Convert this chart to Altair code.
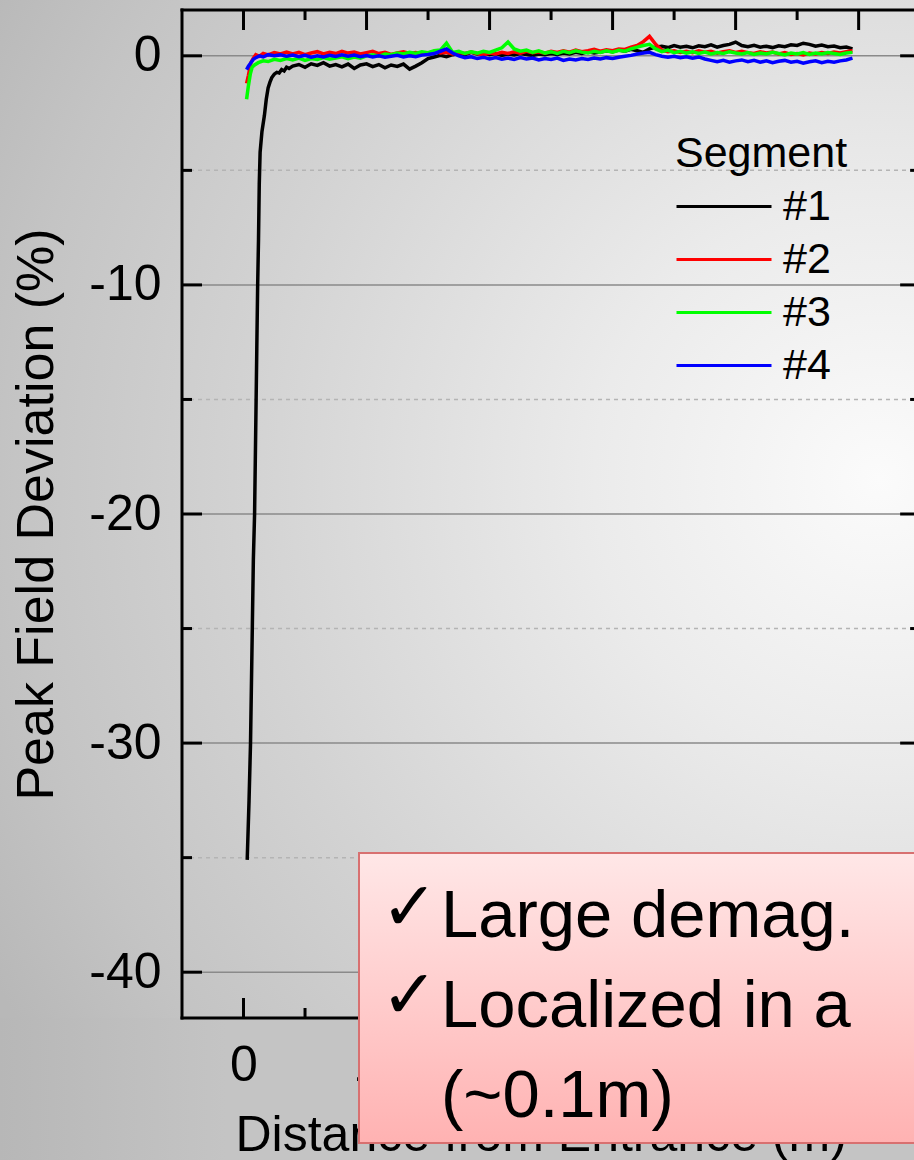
import altair as alt
import pandas as pd

FONT = "Liberation Sans"

segments = ["#1", "#2", "#3", "#4"]
segment_colors = ["#000000", "#ff0000", "#00ff00", "#0000ff"]

# Entrance region of each segment: distance (m) and peak field deviation (%)
entry_x_1 = [0.03, 0.045, 0.057, 0.07, 0.08, 0.09, 0.10, 0.108, 0.115, 0.122, 0.128, 0.135,
             0.15, 0.17, 0.185, 0.20, 0.215, 0.23, 0.25, 0.27, 0.29, 0.31, 0.33, 0.35, 0.37]
entry_y_1 = [-35.1, -32.5, -30.0, -25.5, -22.0, -20.0, -16.0, -12.8, -10.0, -8.0, -5.6, -4.2,
             -3.3, -2.6, -1.9, -1.4, -1.15, -0.95, -0.8, -0.72, -0.75, -0.6, -0.66, -0.5, -0.55]
entry_x_2 = [0.025, 0.04, 0.06, 0.08, 0.10, 0.13, 0.16, 0.20, 0.25, 0.30, 0.35]
entry_y_2 = [-1.2, -0.85, -0.3, -0.1, 0.05, -0.02, 0.10, 0.04, 0.14, 0.08, 0.16]
entry_x_3 = [0.025, 0.04, 0.055, 0.07, 0.09, 0.12, 0.16, 0.20, 0.25, 0.30, 0.35]
entry_y_3 = [-1.9, -1.3, -0.8, -0.5, -0.4, -0.3, -0.22, -0.25, -0.15, -0.2, -0.12]
entry_x_4 = [0.025, 0.04, 0.06, 0.08, 0.10, 0.13, 0.16, 0.20, 0.25, 0.30, 0.35]
entry_y_4 = [-0.6, -0.45, -0.3, -0.15, -0.08, 0.0, -0.05, 0.05, 0.0, 0.04, -0.02]

# Remainder of each segment, sampled every 0.05 m
plateau_x = [0.40, 0.45, 0.50, 0.55, 0.60, 0.65, 0.70, 0.75, 0.80, 0.85,
             0.90, 0.95, 1.00, 1.05, 1.10, 1.15, 1.20, 1.25, 1.30, 1.35,
             1.40, 1.45, 1.50, 1.55, 1.60, 1.65, 1.70, 1.75, 1.80, 1.85,
             1.90, 1.95, 2.00, 2.05, 2.10, 2.15, 2.20, 2.25, 2.30, 2.35,
             2.40, 2.45, 2.50, 2.55, 2.60, 2.65, 2.70, 2.75, 2.80, 2.85,
             2.90, 2.95, 3.00, 3.05, 3.10, 3.15, 3.20, 3.25, 3.30, 3.35,
             3.40, 3.45, 3.50, 3.55, 3.60, 3.65, 3.70, 3.75, 3.80, 3.85,
             3.90, 3.95, 4.00, 4.05, 4.10, 4.15, 4.20, 4.25, 4.30, 4.35,
             4.40, 4.45, 4.50, 4.55, 4.60, 4.65, 4.70, 4.75, 4.80, 4.85,
             4.90, 4.95]
plateau_1 = [-0.45, -0.38, -0.50, -0.35, -0.42, -0.30, -0.45, -0.38, -0.48, -0.36,
             -0.55, -0.40, -0.35, -0.47, -0.38, -0.52, -0.40, -0.46, -0.36, -0.58,
             -0.45, -0.30, -0.12, -0.05, 0.02, -0.04, 0.05, 0.10, 0.05, 0.15,
             0.08, 0.12, 0.05, 0.10, 0.02, 0.08, 0.04, 0.10, 0.06, 0.02,
             0.08, 0.05, 0.10, 0.06, 0.12, 0.08, 0.15, 0.10, 0.18, 0.12,
             0.16, 0.22, 0.18, 0.25, 0.20, 0.28, 0.22, 0.15, 0.30, 0.38,
             0.42, 0.36, 0.45, 0.38, 0.42, 0.35, 0.44, 0.40, 0.48, 0.38,
             0.45, 0.50, 0.60, 0.45, 0.40, 0.46, 0.38, 0.42, 0.36, 0.44,
             0.40, 0.48, 0.45, 0.55, 0.50, 0.42, 0.47, 0.40, 0.43, 0.35,
             0.38, 0.30]
plateau_2 = [0.08, 0.15, 0.05, 0.12, 0.18, 0.08, 0.15, 0.10, 0.20, 0.12,
             0.16, 0.08, 0.14, 0.20, 0.10, 0.15, 0.06, 0.12, 0.18, 0.10,
             0.14, 0.08, 0.12, 0.20, 0.12, 0.15, 0.08, 0.14, 0.10, 0.16,
             0.10, 0.05, 0.12, 0.08, 0.15, 0.10, 0.18, 0.12, 0.20, 0.14,
             0.18, 0.12, 0.20, 0.15, 0.22, 0.16, 0.25, 0.18, 0.22, 0.28,
             0.20, 0.26, 0.22, 0.30, 0.28, 0.38, 0.45, 0.62, 0.85, 0.50,
             0.25, 0.18, 0.22, 0.15, 0.20, 0.14, 0.22, 0.16, 0.20, 0.12,
             0.18, 0.22, 0.15, 0.20, 0.14, 0.10, 0.18, 0.12, 0.16, 0.08,
             0.14, 0.06, 0.10, 0.04, 0.12, 0.08, 0.14, 0.10, 0.16, 0.12,
             0.18, 0.22]
plateau_3 = [-0.18, -0.10, -0.20, -0.12, -0.16, -0.08, -0.15, -0.10, -0.04, -0.12,
             -0.05, -0.10, 0.00, 0.05, -0.02, 0.08, 0.05, 0.12, 0.08, 0.15,
             0.10, 0.18, 0.14, 0.22, 0.25, 0.55, 0.15, 0.20, 0.10, 0.18,
             0.12, 0.20, 0.15, 0.25, 0.35, 0.60, 0.30, 0.20, 0.25, 0.15,
             0.22, 0.12, 0.18, 0.10, 0.20, 0.14, 0.22, 0.16, 0.12, 0.20,
             0.15, 0.22, 0.16, 0.24, 0.20, 0.30, 0.38, 0.45, 0.50, 0.30,
             0.18, 0.25, 0.14, 0.20, 0.12, 0.18, 0.10, 0.16, 0.08, 0.14,
             0.10, 0.18, 0.12, 0.08, 0.14, 0.06, 0.12, 0.08, 0.15, 0.10,
             0.04, 0.12, 0.08, 0.14, 0.06, 0.12, 0.08, 0.14, 0.10, 0.06,
             0.12, 0.15]
plateau_4 = [0.03, -0.04, 0.02, -0.06, 0.00, -0.05, 0.02, -0.03, 0.04, -0.02,
             0.03, -0.04, 0.01, -0.05, 0.00, -0.06, -0.02, 0.02, -0.05, 0.00,
             -0.04, 0.03, 0.06, 0.10, 0.20, 0.30, 0.12, 0.00, -0.08, -0.04,
             -0.12, -0.06, -0.14, -0.08, -0.15, -0.10, -0.16, -0.08, -0.14, -0.10,
             -0.18, -0.12, -0.16, -0.10, -0.20, -0.14, -0.18, -0.12, -0.16, -0.10,
             -0.14, -0.08, -0.12, -0.06, -0.02, 0.02, 0.08, 0.12, 0.15, 0.05,
             -0.02, -0.06, -0.02, -0.08, -0.04, -0.10, -0.05, -0.14, -0.20, -0.26,
             -0.20, -0.28, -0.22, -0.18, -0.26, -0.20, -0.28, -0.22, -0.30, -0.24,
             -0.20, -0.28, -0.24, -0.32, -0.26, -0.22, -0.30, -0.24, -0.28, -0.22,
             -0.18, -0.10]

y_major = [0, -10, -20, -30, -40]
y_minor = [-5, -15, -25, -35]
x_major = [0, 1, 2, 3, 4, 5]
x_minor = [0.5, 1.5, 2.5, 3.5, 4.5]

note_lines = ["Large demag.", "Localized in a", "(~0.1m)"]
note_checks = ["\u2713", "\u2713"]

# ---- table for the line layer ----
rows = []
series = zip(segments,
             [entry_x_1, entry_x_2, entry_x_3, entry_x_4],
             [entry_y_1, entry_y_2, entry_y_3, entry_y_4],
             [plateau_1, plateau_2, plateau_3, plateau_4])
for seg, ex, ey, py in series:
    for d, v in zip(ex + plateau_x, ey + py):
        rows.append({"segment": seg, "distance": d, "deviation": v})
df = pd.DataFrame(rows)

# ---- layout ----
W, H = 732, 1008
X_DOMAIN = [-0.5, 5.45]
Y_DOMAIN = [-42, 2]
RIGHT_EDGE = W * 6.0 / (X_DOMAIN[1] - X_DOMAIN[0])   # frame at x = 5.5 m

xs = alt.Scale(domain=X_DOMAIN, nice=False, zero=False)
ys = alt.Scale(domain=Y_DOMAIN, nice=False, zero=False)
one = pd.DataFrame({"k": [0]})

x_axis = alt.Axis(title="Distance from Entrance (m)", values=x_major, format="d",
                  domain=False, ticks=False, tickSize=0, grid=False,
                  labelFont=FONT, labelFontSize=50, labelColor="black",
                  labelPadding=62, labelBaseline="alphabetic",
                  labelFlush=False, labelOverlap=False,
                  titleFont=FONT, titleFontSize=50, titleFontWeight="normal",
                  titleColor="black", titleX=53, titleY=132,
                  titleAlign="left", titleBaseline="alphabetic", zindex=0)
y_axis = alt.Axis(title="Peak Field Deviation (%)", values=y_major,
                  labelExpr="toString(datum.value)",
                  domain=False, ticks=False, tickSize=0, grid=False,
                  labelFont=FONT, labelFontSize=50, labelColor="black",
                  labelPadding=21, labelFlush=False, labelOverlap=False,
                  titleFont=FONT, titleFontSize=52, titleFontWeight="normal",
                  titleColor="black", titleAngle=270, titleX=-130, titleY=H / 2,
                  titleAlign="center", titleBaseline="alphabetic", zindex=1)

# slide backdrop behind the plot and the left margin
background = alt.Chart(one).mark_rect(
    fill=alt.Gradient(
        gradient="radial",
        stops=[alt.GradientStop(offset=0.0, color="#fbfbfb"),
               alt.GradientStop(offset=0.28, color="#ebebeb"),
               alt.GradientStop(offset=0.62, color="#d3d3d3"),
               alt.GradientStop(offset=0.85, color="#c4c4c4"),
               alt.GradientStop(offset=1.0, color="#b8b8b8")],
        x1=0.915, y1=0.47, r1=0, x2=0.915, y2=0.47, r2=1.0),
    strokeWidth=0,
).encode(x=alt.value(-182), x2=alt.value(W), y=alt.value(-10), y2=alt.value(H))

# backdrop of the lower-left corner, left of the axis labels
corner = alt.Chart(one).mark_rect(
    fill=alt.Gradient(gradient="linear",
                      stops=[alt.GradientStop(offset=0.0, color="#b7b7b7"),
                             alt.GradientStop(offset=1.0, color="#c4c4c4")],
                      x1=0, y1=0, x2=1, y2=0),
    strokeWidth=0,
).encode(x=alt.value(-182), x2=alt.value(44), y=alt.value(H), y2=alt.value(H + 142))

grid_minor = alt.Chart(pd.DataFrame({"deviation": y_minor})).mark_rule(
    color="#b4b4b4", strokeWidth=1.5, strokeDash=[4, 4]
).encode(y=alt.Y("deviation:Q", scale=ys, axis=y_axis))

grid_major = alt.Chart(pd.DataFrame({"deviation": y_major})).mark_rule(
    color="#8a8a8a", strokeWidth=1.5
).encode(y=alt.Y("deviation:Q", scale=ys, axis=y_axis))

lines = alt.Chart(df).mark_line(strokeWidth=3.5).encode(
    x=alt.X("distance:Q", scale=xs, axis=x_axis),
    y=alt.Y("deviation:Q", scale=ys, axis=y_axis),
    color=alt.Color("segment:N",
                    scale=alt.Scale(domain=segments, range=segment_colors),
                    legend=alt.Legend(orient="none", legendX=493, legendY=123,
                                      title="Segment", titleFont=FONT, titleFontSize=43,
                                      titleFontWeight="normal", titleColor="black",
                                      titlePadding=9, labelFont=FONT, labelFontSize=43,
                                      labelColor="black", labelOffset=10,
                                      symbolType="stroke", symbolSize=9025,
                                      symbolStrokeWidth=3, rowPadding=9,
                                      clipHeight=43, padding=0)),
)

# plot frame (left, top, bottom)
frame_left = alt.Chart(one).mark_rule(color="black", strokeWidth=3, strokeCap="square").encode(
    x=alt.value(0), y=alt.value(0), y2=alt.value(H))
frame_top = alt.Chart(one).mark_rule(color="black", strokeWidth=3, strokeCap="square").encode(
    x=alt.value(0), x2=alt.value(RIGHT_EDGE), y=alt.value(0))
frame_bottom = alt.Chart(one).mark_rule(color="black", strokeWidth=3, strokeCap="square").encode(
    x=alt.value(0), x2=alt.value(RIGHT_EDGE), y=alt.value(H))


def yticks(values, x0, x1):
    return alt.Chart(pd.DataFrame({"deviation": values})).mark_rule(
        color="black", strokeWidth=3
    ).encode(y=alt.Y("deviation:Q", scale=ys, axis=y_axis), x=alt.value(x0), x2=alt.value(x1))


def xticks(values, y0, y1):
    return alt.Chart(pd.DataFrame({"distance": values})).mark_rule(
        color="black", strokeWidth=3
    ).encode(x=alt.X("distance:Q", scale=xs, axis=x_axis), y=alt.value(y0), y2=alt.value(y1))


ticks = [
    yticks(y_major, 0, 20), yticks(y_minor, 0, 10),
    yticks(y_major, RIGHT_EDGE - 20, RIGHT_EDGE), yticks(y_minor, RIGHT_EDGE - 10, RIGHT_EDGE),
    xticks(x_major, 0, 20), xticks(x_minor, 0, 10),
    xticks(x_major, H - 20, H), xticks(x_minor, H - 10, H),
]

# callout box
box = alt.Chart(one).mark_rect(
    fill=alt.Gradient(gradient="linear",
                      stops=[alt.GradientStop(offset=0.0, color="#ffe7e7"),
                             alt.GradientStop(offset=1.0, color="#ffb2b2")],
                      x1=0, y1=0, x2=0, y2=1),
    stroke="#d87070", strokeWidth=2,
).encode(x=alt.value(177), x2=alt.value(W + 40), y=alt.value(843), y2=alt.value(1133))

checks = alt.Chart(one).mark_text(
    align="left", baseline="alphabetic", font="DejaVu Sans", fontSize=68,
    lineHeight=88, color="black",
).encode(x=alt.value(199), y=alt.value(920), text=alt.value(note_checks))

note = alt.Chart(one).mark_text(
    align="left", baseline="alphabetic", font=FONT, fontSize=67,
    lineHeight=90, color="black",
).encode(x=alt.value(259), y=alt.value(927), text=alt.value(note_lines))

chart = alt.layer(
    background, corner, grid_minor, grid_major, lines,
    frame_left, frame_top, frame_bottom, *ticks,
    box, checks, note,
).properties(
    width=W, height=H,
    padding={"left": 182, "top": 10, "right": 0, "bottom": 142},
    autosize=alt.AutoSizeParams(type="none"),
    background="#c4c4c4",
).configure_view(stroke=None)

chart.save("out.html", embed_options={"renderer": "svg", "actions": False})
